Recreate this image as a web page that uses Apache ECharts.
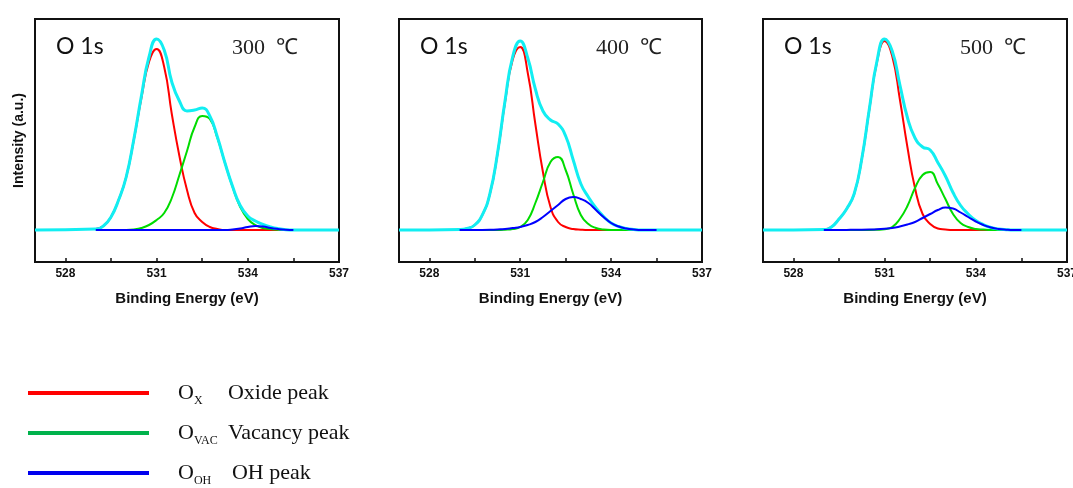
<!DOCTYPE html>
<html>
<head>
<meta charset="utf-8">
<script src="https://cdn.jsdelivr.net/npm/echarts@6/dist/echarts.min.js"></script>
<style>
html,body{margin:0;padding:0;background:#fff;}
#main{width:1073px;height:488px;}
</style>
</head>
<body>
<div id="main"></div>
<script>
// binding energy grid (eV) the component peaks are read on
var energy = [529, 529.25, 529.5, 529.75, 530, 530.25, 530.5, 530.75, 531, 531.25, 531.5, 531.75, 532, 532.25,
	532.5, 532.75, 533, 533.25, 533.5, 533.75, 534, 534.25, 534.5, 534.75, 535, 535.25, 535.5];
// the envelope also runs flat over the whole window
var fitEnergy = [527].concat(energy, [537]);

var temps = ['300 ℃', '400 ℃', '500 ℃'];
var tickLabels = [528, 531, 534, 537];
var tickMarks = [528, 529.5, 531, 532.5, 534, 535.5, 537];

// 300 C
var oxide300 = [1,4,13,30,53,90,132,168,181,163,116,74,40,17,8,3,1,0,0,0,0,0,0,0,0,0,0];
var vacancy300 = [0,0,0,0,0,0.5,2,5,10,17,32,55,79,103,114,111,92,67,43,23,11,5,2,1,0.3,0,0];
var oh300 = [0,0,0,0,0,0,0,0,0,0,0,0,0,0,0,0,0,0,0.5,1.5,3,4,3.5,2,1,0.3,0];
var fit300 = [0,1,4,13,30,53,90.5,134,173,191,180,148,129,119,120,122,114,93,67,43.5,24.5,14,9,5.5,3,1.3,0.3,0,0];

// 400 C
var oxide400 = [0.5,1.5,5,15,36,76,128,170,183,157,106,58,23,8,3,1,0.3,0,0,0,0,0,0,0,0,0,0];
var vacancy400 = [0,0,0,0,0,0,0.3,1,3,10,27,48,68,73,60,36,15,6,2,0.5,0,0,0,0,0,0,0];
var oh400 = [0,0,0,0.1,0.3,0.6,1,2,3,5,8,13,19,25,31,33,31,27,20,13,7,3.5,1.5,0.5,0,0,0];
var fit400 = [0,0.5,1.5,5,15.1,36.3,76.6,129.3,173,189,172,141,119,110,106,94,70,46.3,33,22,13.5,7,3.5,1.5,0.5,0,0,0,0];

// 500 C
var oxide500 = [0.5,3,11,21,36,71,121,168,189,174,131,83,42,16,6,1.5,0.5,0,0,0,0,0,0,0,0,0,0];
var vacancy500 = [0,0,0,0,0,0,0,0.2,0.7,3,11,24,42,55,58,46,31,16,7,3,1,0.4,0,0,0,0,0];
var oh500 = [0,0,0,0.1,0.2,0.3,0.5,0.8,1.3,2,3.5,5.5,8,12,16,20,22.5,21.5,17.5,13,8.5,5,2.5,1,0.3,0,0];
var fit500 = [0,0.5,3,11,21.1,36.2,71.3,121.5,169,191,179,145.5,112.5,92,83,80,67.5,54,37.5,24.5,16,9.5,5.4,2.5,1,0.3,0,0,0];

var panels = [
	{oxide: oxide300, vacancy: vacancy300, oh: oh300, fit: fit300},
	{oxide: oxide400, vacancy: vacancy400, oh: oh400, fit: fit400},
	{oxide: oxide500, vacancy: vacancy500, oh: oh500, fit: fit500}
];

var gridLefts = [35, 399, 763];
var gridWidths = [304, 303, 304];

function pairs(xs, ys){
	var out = [];
	for(var i=0;i<xs.length;i++){
		out.push([xs[i], ys[i]]);
	}
	return out;
}

function lineSeries(name, idx, xs, ys, color, width){
	return {
		name: name,
		type: 'line',
		xAxisIndex: idx,
		yAxisIndex: idx,
		data: pairs(xs, ys),
		showSymbol: false,
		smooth: 0.5,
		color: color,
		lineStyle: {color: color, width: width},
		silent: true
	};
}

var grids = [], xAxes = [], yAxes = [], series = [], titles = [];

for(var i=0;i<3;i++){
	grids.push({
		left: gridLefts[i], top: 19, width: gridWidths[i], height: 243,
		outerBoundsMode: 'none',
		show: true, borderColor: '#111', borderWidth: 2, backgroundColor: 'transparent'
	});
	xAxes.push({
		gridIndex: i,
		type: 'value',
		min: 527,
		max: 537,
		name: 'Binding Energy (eV)',
		nameLocation: 'middle',
		nameGap: 29,
		nameTextStyle: {fontFamily: 'Liberation Sans', fontWeight: 'bold', fontSize: 15, color: '#111'},
		axisLine: {show: false, onZero: false},
		splitLine: {show: false},
		axisTick: {inside: true, length: 4, customValues: tickMarks, lineStyle: {color: '#111', width: 1.5}},
		axisLabel: {customValues: tickLabels, margin: 6, fontFamily: 'Liberation Sans', fontWeight: 'bold', fontSize: 12, color: '#111'}
	});
	yAxes.push({
		gridIndex: i,
		type: 'value',
		min: -32,
		max: 211,
		name: i === 0 ? 'Intensity (a.u.)' : '',
		nameLocation: 'middle',
		nameGap: 9,
		nameTextStyle: {fontFamily: 'Liberation Sans', fontWeight: 'bold', fontSize: 14, color: '#111'},
		axisLine: {show: false, onZero: false},
		axisTick: {show: false},
		axisLabel: {show: false},
		splitLine: {show: false}
	});
	var p = panels[i];
	series.push(lineSeries('Ox', i, energy, p.oxide, '#ff0000', 2));
	series.push(lineSeries('Ovac', i, energy, p.vacancy, '#00dc00', 2));
	series.push(lineSeries('fit', i, fitEnergy, p.fit, '#12eef2', 3));
	series.push(lineSeries('Ooh', i, energy, p.oh, '#0000ff', 2));

	titles.push({
		text: 'O 1s', left: gridLefts[i] + 21, top: 33, padding: 0,
		textStyle: {fontFamily: 'Lato', fontWeight: 'normal', fontSize: 23, lineHeight: 28, color: '#111'}
	});
	titles.push({
		text: temps[i].replace(' ', '  '), left: gridLefts[i] + 197, top: 34, padding: 0,
		textStyle: {fontFamily: 'Liberation Serif', fontWeight: 300, fontSize: 22, lineHeight: 28, color: '#222'}
	});
}

var legendText = {
	Ox: '{p| }{o|O}{s1|X}{t|Oxide peak}',
	Ovac: '{p| }{o|O}{s1|VAC}{t|Vacancy peak}',
	Ooh: '{p| }{o|O}{s3|OH}{t|OH peak}'
};

var option = {
	animation: false,
	backgroundColor: '#fff',
	title: titles,
	grid: grids,
	xAxis: xAxes,
	yAxis: yAxes,
	legend: {
		orient: 'vertical',
		left: 28,
		top: 382,
		padding: 0,
		icon: 'rect',
		itemWidth: 121,
		itemHeight: 4,
		itemGap: 15,
		selectedMode: false,
		data: [
			{name: 'Ox', itemStyle: {color: '#ff0000'}},
			{name: 'Ovac', itemStyle: {color: '#00b24c'}},
			{name: 'Ooh', itemStyle: {color: '#0000ee'}}
		],
		formatter: function(name){
			return legendText[name];
		},
		textStyle: {
			color: '#111',
			rich: {
				p: {width: 24, fontSize: 10, lineHeight: 28},
				o: {fontFamily: 'Liberation Serif', fontSize: 22, lineHeight: 28, verticalAlign: 'middle'},
				s1: {fontFamily: 'Liberation Serif', fontSize: 12, lineHeight: 12, width: 34, verticalAlign: 'bottom'},
				s3: {fontFamily: 'Liberation Serif', fontSize: 12, lineHeight: 12, width: 38, verticalAlign: 'bottom'},
				t: {fontFamily: 'Liberation Serif', fontSize: 22, lineHeight: 28, verticalAlign: 'middle'}
			}
		}
	},
	series: series
};

var myChart = echarts.init(document.getElementById('main'));
myChart.setOption(option);
</script>
</body>
</html>
